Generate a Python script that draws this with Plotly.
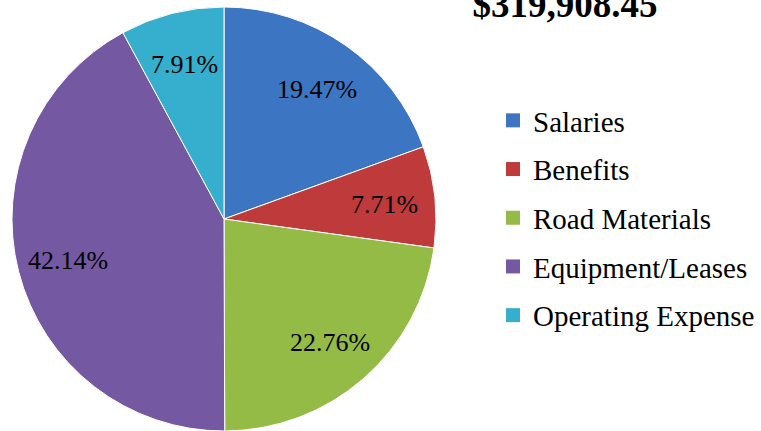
import math
import plotly.graph_objects as go

categories = ["Salaries", "Benefits", "Road Materials", "Equipment/Leases", "Operating Expense"]
percent_values = [19.47, 7.71, 22.76, 42.14, 7.91]
slice_colors = ["#3C75C2", "#BF3A3A", "#93BB45", "#7458A2", "#36AECD"]
total_label = "$319,908.45"

W, H = 761, 431
cx, cy, r = 224, 219, 212
label_k = 0.76

fig = go.Figure()
fig.add_trace(go.Pie(
    labels=categories,
    values=percent_values,
    sort=False,
    direction="clockwise",
    rotation=0,
    marker=dict(colors=slice_colors, line=dict(color="white", width=1)),
    textinfo="none",
    showlegend=False,
    hoverinfo="label+percent",
    domain=dict(x=[(cx - r) / W, (cx + r) / W], y=[(H - cy - r) / H, (H - cy + r) / H]),
))

# percentage labels placed at each slice's mid-angle (derived from the data)
total = sum(percent_values)
cum = 0.0
for v in percent_values:
    theta = 2 * math.pi * (cum + v / 2) / total
    cum += v
    px = cx + label_k * r * math.sin(theta)
    py = cy - label_k * r * math.cos(theta) + 2
    fig.add_annotation(x=px / W, y=1 - py / H, xref="paper", yref="paper",
                       text=f"{v:.2f}%", showarrow=False, xanchor="center", yanchor="middle",
                       font=dict(family="Liberation Serif", size=26, color="black"))

for i, (cat, col) in enumerate(zip(categories, slice_colors)):
    fig.add_trace(go.Scatter(
        x=[None], y=[None], mode="markers", name=cat,
        legendgroup=f"g{i}",
        marker=dict(symbol="square", size=14, color=col),
        showlegend=True,
    ))

fig.update_layout(
    width=W, height=H,
    margin=dict(l=0, r=0, t=0, b=0),
    paper_bgcolor="white", plot_bgcolor="white",
    xaxis=dict(visible=False), yaxis=dict(visible=False),
    title=dict(text=f"<b>{total_label}</b>", x=565 / W, xanchor="center",
               y=0.99, yanchor="middle", yref="container",
               font=dict(family="Liberation Serif", size=37, color="black")),
    legend=dict(x=493 / W, xanchor="left", y=1 - 95 / H, yanchor="top",
                font=dict(family="Liberation Serif", size=29, color="black"),
                tracegroupgap=8, bgcolor="rgba(0,0,0,0)"),
)

fig.write_html("out.html", config={"displayModeBar": False},
               post_script="document.body.style.margin='0';")
